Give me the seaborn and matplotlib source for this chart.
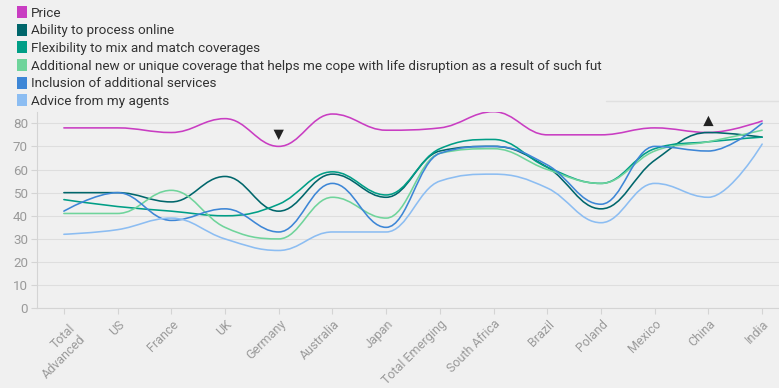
import matplotlib
matplotlib.use("Agg")
import matplotlib.pyplot as plt
import matplotlib.transforms as mtransforms
from matplotlib.path import Path
from matplotlib.patches import PathPatch, Patch
from matplotlib.lines import Line2D
import pandas as pd
import seaborn as sns

# --- data ---
countries = ["Total\nAdvanced", "US", "France", "UK", "Germany", "Australia", "Japan",
             "Total Emerging", "South Africa", "Brazil", "Poland", "Mexico", "China", "India"]

price = [78, 78, 76, 82, 70, 84, 77, 78, 85, 75, 75, 78, 76, 81]
online = [50, 50, 46, 57, 42, 58, 48, 68, 70, 61, 43, 64, 76, 74]
flexibility = [47, 44, 42, 40, 45, 59, 49, 69, 73, 61, 54, 69, 72, 74]
new_coverage = [41, 41, 51, 35, 30, 48, 39, 67, 69, 60, 54, 68, 72, 77]
extra_services = [42, 50, 38, 43, 33, 54, 35, 67, 70, 62, 45, 70, 68, 80]
agent_advice = [32, 34, 39, 30, 25, 33, 33, 55, 58, 52, 37, 54, 48, 71]

series_names = [
    "Price",
    "Ability to process online",
    "Flexibility to mix and match coverages",
    "Additional new or unique coverage that helps me cope with life disruption as a result of such fut",
    "Inclusion of additional services",
    "Advice from my agents",
]
series_values = [price, online, flexibility, new_coverage, extra_services, agent_advice]
series_colors = ["#c93dc2", "#00666b", "#009e86", "#6fd49b", "#3d86d6", "#8cbdf2"]

# significance markers on the Price line
sig_lower = ["Germany"]
sig_higher = ["China"]

BG = "#f0f0f0"
GRID = "#dedede"
TICK_TXT = "#9a9a9a"


def spline_path(ys, smoothing=1.5):
    """Smooth path through the points, same control-point rule as a Highcharts spline."""
    n = len(ys)
    xs = list(range(n))
    denom = smoothing + 1
    left = [(xs[i], ys[i]) for i in range(n)]
    right = [(xs[i], ys[i]) for i in range(n)]
    for i in range(1, n - 1):
        px, py = xs[i], ys[i]
        lx, ly = xs[i - 1], ys[i - 1]
        nx, ny = xs[i + 1], ys[i + 1]
        lcx = (smoothing * px + lx) / denom
        lcy = (smoothing * py + ly) / denom
        rcx = (smoothing * px + nx) / denom
        rcy = (smoothing * py + ny) / denom
        corr = (rcy - lcy) * (rcx - px) / (rcx - lcx) + py - rcy
        lcy += corr
        rcy += corr
        if lcy > ly and lcy > py:
            lcy = max(ly, py)
            rcy = 2 * py - lcy
        elif lcy < ly and lcy < py:
            lcy = min(ly, py)
            rcy = 2 * py - lcy
        if rcy > ny and rcy > py:
            rcy = max(ny, py)
            lcy = 2 * py - rcy
        elif rcy < ny and rcy < py:
            rcy = min(ny, py)
            lcy = 2 * py - rcy
        left[i] = (lcx, lcy)
        right[i] = (rcx, rcy)
    verts = [(xs[0], ys[0])]
    codes = [Path.MOVETO]
    for i in range(1, n):
        verts += [right[i - 1], left[i], (xs[i], ys[i])]
        codes += [Path.CURVE4] * 3
    return Path(verts, codes)


sns.set_theme(style="whitegrid", rc={
    "axes.facecolor": BG,
    "figure.facecolor": BG,
    "grid.color": GRID,
    "grid.linewidth": 0.8,
    "axes.edgecolor": "#d4d4d4",
    "axes.linewidth": 0.8,
})
plt.rcParams["font.family"] = ["Roboto", "DejaVu Sans"]

W, H = 779, 388
fig = plt.figure(figsize=(W / 100, H / 100), dpi=100)
ax = fig.add_axes([37 / W, (H - 308.3) / H, 752 / W, (308.3 - 111.7) / H])

for name, vals, col in zip(series_names, series_values, series_colors):
    ax.add_patch(PathPatch(spline_path(vals), fill=False, edgecolor=col, lw=1.15,
                           capstyle="round", joinstyle="round"))

# triangles flagging significant differences
marks = pd.DataFrame({
    "x": [countries.index(c) for c in sig_lower] + [countries.index(c) for c in sig_higher],
    "kind": ["lower"] * len(sig_lower) + ["higher"] * len(sig_higher),
})
marks["y"] = [price[i] + 5 for i in marks["x"]]
sns.scatterplot(data=marks, x="x", y="y", style="kind", markers={"lower": "v", "higher": "^"},
                s=55, color="#222222", linewidth=0, legend=False, ax=ax, zorder=5)

ax.set_xlim(-0.5, len(countries) - 0.5)
ax.set_ylim(0, 85)
ax.set_yticks(range(0, 81, 10))
ax.set_xticks(range(len(countries)))
ax.set_xticklabels(countries, rotation=45, ha="right", va="center", rotation_mode="anchor",
                   multialignment="right")
ax.set_xlabel("")
ax.set_ylabel("")
ax.grid(axis="x", visible=False)
ax.grid(axis="y", visible=True)
for side in ["top", "right"]:
    ax.spines[side].set_visible(False)
ax.tick_params(axis="y", length=4.5, width=0.8, color="#d4d4d4", pad=2,
               labelsize=9.6, labelcolor=TICK_TXT, left=True)
ax.tick_params(axis="x", length=4, width=0.8, color="#d4d4d4", pad=6,
               labelsize=9, labelcolor=TICK_TXT, bottom=True)
shift = mtransforms.ScaledTranslation(5 / 100, 0, fig.dpi_scale_trans)
for lab in ax.get_xticklabels():
    lab.set_transform(lab.get_transform() + shift)
    if "\n" in lab.get_text():
        # first line sits at the tick, further lines hang below it
        lab.set_verticalalignment("top")

handles = [Patch(facecolor=c, edgecolor="none") for c in series_colors]
fig.legend(handles, series_names, loc="upper left", bbox_to_anchor=(17 / W, 1 - 6 / H),
           frameon=False, borderpad=0, borderaxespad=0, fontsize=9.7,
           handlelength=0.75, handleheight=1.0, handletextpad=0.3, labelspacing=0.3,
           labelcolor="#333333")

fig.add_artist(Line2D([606 / W, 1], [1 - 100.5 / H, 1 - 100.5 / H], color="#e0e0e0", lw=1))

fig.savefig("out.png", dpi=100, facecolor=BG)
